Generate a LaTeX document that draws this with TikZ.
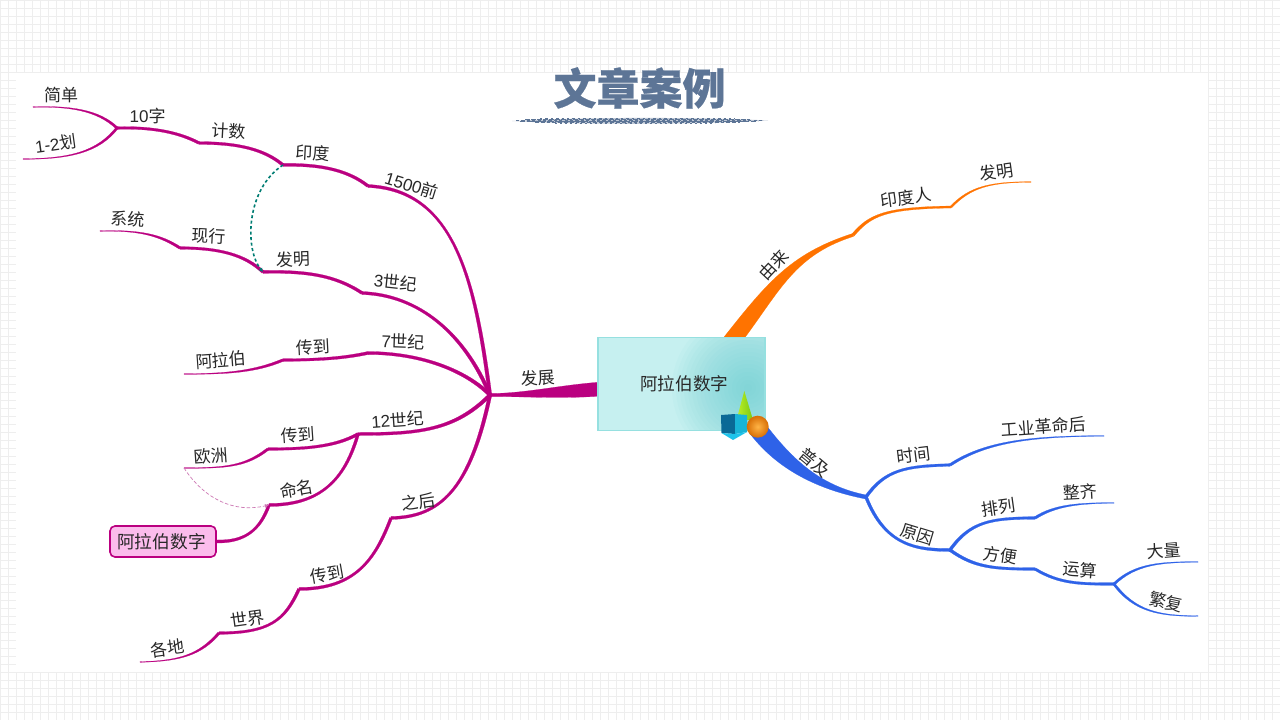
\documentclass[tikz,border=0pt]{standalone}
\usepackage{fontspec}
\setmainfont{Noto Sans CJK SC}
\newfontfamily\titlefont[BoldFeatures={FakeBold=0.5}]{Noto Sans CJK SC}
\newfontfamily\latinfont{Liberation Sans}
\usetikzlibrary{calc,arrows.meta}
\definecolor{mag}{RGB}{186,0,128}
\definecolor{org}{RGB}{255,115,0}
\definecolor{blu}{RGB}{46,98,232}
\definecolor{ink}{RGB}{40,40,40}
\definecolor{gridc}{RGB}{238,238,238}
\definecolor{slate}{RGB}{93,117,150}
\definecolor{boxbase}{RGB}{198,240,240}
\definecolor{boxglow}{RGB}{100,205,210}
\definecolor{boxedge}{RGB}{150,224,224}
\definecolor{pinkfill}{RGB}{251,188,236}
\definecolor{tealdash}{RGB}{0,125,115}
\definecolor{pinkdash}{RGB}{205,120,180}
\definecolor{conea}{RGB}{190,240,40}
\definecolor{coneb}{RGB}{120,200,20}
\definecolor{cubea}{RGB}{10,105,150}
\definecolor{cubeb}{RGB}{25,180,215}
\definecolor{cubec}{RGB}{30,195,235}
\definecolor{balla}{RGB}{255,180,70}
\definecolor{ballb}{RGB}{215,110,5}
\tikzset{
  lab/.style={inner sep=0pt,text=ink,font=\fontsize{17}{17}\selectfont},
}
% \br[colour]{from}{to}{c1}{c2}{width at from}{width at to}
\newcommand{\br}[7][mag]{%
  \coordinate (Pa) at ($(#2)!0.5*#6pt!90:(#4)$);
  \coordinate (Qa) at ($(#2)!0.5*#6pt!-90:(#4)$);
  \coordinate (Pb) at ($(#3)!0.5*#7pt!-90:(#5)$);
  \coordinate (Qb) at ($(#3)!0.5*#7pt!90:(#5)$);
  \path[fill=#1,draw=#1,line width=0.2pt] (Pa) .. controls ($(#4)+(Pa)-(#2)$) and ($(#5)+(Pb)-(#3)$) .. (Pb)
     -- (Qb) .. controls ($(#5)+(Qb)-(#3)$) and ($(#4)+(Qa)-(#2)$) .. (Qa) -- cycle;
}
\begin{document}
\begin{tikzpicture}[x=1pt,y=-1pt]
\useasboundingbox (0,0) rectangle (1280,720);
% background grid
\fill[white] (0,0) rectangle (1280,720);
\foreach \i in {0,8,...,1280} \draw[gridc,line width=1.2pt] (\i+0.3,0) -- (\i+0.3,720);
\foreach \j in {0,8,...,720} \draw[gridc,line width=1.2pt] (0,\j+0.4) -- (1280,\j+0.4);
\fill[white] (16,72.8) rectangle (1207.7,671.8);
% title
\node[inner sep=0pt,text=slate,font=\fontsize{43}{43}\selectfont\titlefont\bfseries] (title) at (639.5,88) {文章案例};
\fill[slate,opacity=0.4] (512,121) .. controls (580,117) and (700,117) .. (768,120.5) .. controls (700,124.5) and (580,125) .. (512,121) -- cycle;
\foreach \yy/\aa/\bb/\xa/\xb in {118.6/2.3/3.1/540/735, 119.4/4.7/1.3/525/750, 120.2/3.1/2.3/516/762, 121/7.3/1.1/530/745, 121.8/5.3/1.7/520/758, 122.6/3.7/2.1/535/740, 123.4/2.1/2.9/555/715}
  \draw[slate,line width=0.8pt,dash pattern=on \aa pt off \bb pt] (\xa,\yy) -- (\xb,\yy);
% coordinates: left
\coordinate (hub) at (490,395);
\coordinate (j1500) at (368,186);
\coordinate (jyindu) at (283,165);
\coordinate (jjishu) at (199,143);
\coordinate (j10) at (117,128);
\coordinate (ejiandan) at (33,107);
\coordinate (ehua) at (23,159);
\coordinate (j3) at (362,293);
\coordinate (jfaming) at (263,272);
\coordinate (jxianxing) at (180,248);
\coordinate (exitong) at (100,231);
\coordinate (j7) at (368,353);
\coordinate (jchuan1) at (283,360);
\coordinate (ealabo) at (184,374);
\coordinate (j12) at (358,434);
\coordinate (jchuan2) at (268,449);
\coordinate (eouzhou) at (184,468);
\coordinate (jmingming) at (269,505);
\coordinate (jzhihou) at (391,518);
\coordinate (jchuan3) at (299,589);
\coordinate (jshijie) at (219,633);
\coordinate (egedi) at (140,662);
\coordinate (rootL) at (602,389);
% coordinates: right
\coordinate (rootT) at (727,347);
\coordinate (jyinduren) at (853,235);
\coordinate (jfaming2) at (951,207);
\coordinate (efaming) at (1031,182);
\coordinate (rootB) at (757,428);
\coordinate (jpuji) at (866,497);
\coordinate (jshijian) at (950,465);
\coordinate (egongye) at (1104,436);
\coordinate (jyuanyin) at (950,550);
\coordinate (jpailie) at (1035,518);
\coordinate (ezhengqi) at (1114,503);
\coordinate (jfangbian) at (1035,569);
\coordinate (jyunsuan) at (1114,584);
\coordinate (edaliang) at (1198,562);
\coordinate (efanfu) at (1198,616);
% trunks
\br{rootL}{hub}{560,392}{525,395}{14}{3}
\br[org]{rootT}{jyinduren}{772,290}{790,255}{17}{3}
\br[blu]{rootB}{jpuji}{785,465}{820,488}{18}{4}
% magenta branches
\br{hub}{j1500}{475,280}{455,190}{3.6}{3}
\br{j1500}{jyindu}{350,172}{325,164}{3}{3}
\br{jyindu}{jjishu}{265,150}{240,143}{3}{2.8}
\br{jjishu}{j10}{180,133}{155,127}{2.8}{2.6}
\br{j10}{ejiandan}{98,110}{70,106}{2.4}{0.6}
\br{j10}{ehua}{98,152}{70,159}{2.4}{0.6}
\br{hub}{j3}{465,335}{420,295}{3.6}{3}
\br{j3}{jfaming}{335,275}{305,271}{3}{3}
\br{jfaming}{jxianxing}{245,255}{220,248}{3}{2.6}
\br{jxianxing}{exitong}{160,235}{140,230}{2.6}{0.6}
\br{hub}{j7}{465,370}{420,353}{3.6}{3}
\br{j7}{jchuan1}{345,358}{320,360}{3}{2.6}
\br{jchuan1}{ealabo}{255,372}{225,374}{2.6}{0.6}
\br{hub}{j12}{455,430}{420,434}{3.6}{3}
\br{j12}{jchuan2}{335,447}{305,449}{3}{2.6}
\br{jchuan2}{eouzhou}{245,467}{225,468}{2.6}{0.6}
\br{j12}{jmingming}{345,480}{320,505}{3}{3}
\br{hub}{jzhihou}{470,490}{440,517}{3.6}{3}
\br{jzhihou}{jchuan3}{375,560}{355,589}{3}{3}
\br{jchuan3}{jshijie}{285,620}{270,633}{3}{2.6}
\br{jshijie}{egedi}{200,655}{180,661}{2.6}{0.6}
% orange
\br[org]{jyinduren}{jfaming2}{870,215}{885,208}{3}{2}
\br[org]{jfaming2}{efaming}{970,187}{990,182}{2}{0.6}
% blue
\br[blu]{jpuji}{jshijian}{885,470}{905,466}{3}{2.6}
\br[blu]{jshijian}{egongye}{985,442}{1030,436}{2.6}{0.7}
\br[blu]{jpuji}{jyuanyin}{885,545}{915,550}{3}{3}
\br[blu]{jyuanyin}{jpailie}{970,522}{990,518}{3}{2.6}
\br[blu]{jpailie}{ezhengqi}{1055,505}{1080,503}{2.6}{0.7}
\br[blu]{jyuanyin}{jfangbian}{975,568}{995,569}{3}{2.6}
\br[blu]{jfangbian}{jyunsuan}{1060,584}{1080,584}{2.6}{2.6}
\br[blu]{jyunsuan}{edaliang}{1135,564}{1160,562}{2.4}{0.7}
\br[blu]{jyunsuan}{efanfu}{1135,612}{1160,616}{2.4}{0.7}
% pink box and its link
\node[inner sep=0pt,minimum width=106pt,minimum height=31pt,rounded corners=5pt,fill=pinkfill,draw=mag,line width=1.6pt,text=ink,font=\fontsize{17.7}{18}\selectfont] (albox) at (163,541.5) {\raisebox{1.5pt}{阿拉伯数字}\hspace*{3pt}};
\coordinate (alboxE) at (albox.east);
\br{alboxE}{jmingming}{245,542}{260,530}{3}{3}
% cross links
\draw[draw=tealdash,line width=1.6pt,dash pattern=on 3pt off 2.5pt,-{Latex[length=4pt,width=4.5pt]}] (jyindu) .. controls (245,190) and (245,250) .. (jfaming);
\draw[draw=pinkdash,line width=0.7pt,dash pattern=on 3.5pt off 2pt,-{Latex[length=4pt,width=4pt]}] (eouzhou) .. controls (205,500) and (235,513) .. (jmingming);
% central topic: base and soft glow
\begin{scope}
  \clip (598,337.2) rectangle (765,430.2);
  \fill[boxbase] (598,337.2) rectangle (765,430.2);
  \foreach \r in {4,8,...,76} \fill[boxglow,opacity=0.05] (748,388) circle (\r pt);
\end{scope}
\node[inner sep=0pt,minimum width=167pt,minimum height=93pt,draw=boxedge,line width=1.1pt,text=ink,font=\fontsize{17.6}{18}\selectfont] (root) at (681.5,383.7) {\hspace*{5.5pt}阿拉伯数字};
% icon
\shade[left color=conea,right color=coneb] (744.3,391) -- (753,420) -- (736.5,420) -- cycle;
\fill[cubea] (721,415) -- (735,414) -- (735,434) -- (721.5,433) -- cycle;
\fill[cubeb] (735,414) -- (747,415) -- (747,432) -- (735,434) -- cycle;
\fill[cubec] (721.5,433) -- (735,434) -- (747,432) -- (733,440) -- cycle;
\shade[inner color=balla,outer color=ballb] (757.7,426.7) circle (11pt);
% labels
\node[lab,rotate=0] (t1) at (61,95) {简单};
\node[lab,rotate=8] (t2) at (55.7,144) {{\latinfont 1-2}划};
\node[lab,rotate=0] (t3) at (147.7,115.7) {{\latinfont 10}字};
\node[lab,rotate=-3] (t4) at (229,131) {计数};
\node[lab,rotate=-3] (t5) at (313.3,152.7) {印度};
\node[lab,rotate=-17] (t6) at (411.7,185.3) {{\latinfont 1500}前};
\node[lab,rotate=-3] (t7) at (128.3,219.3) {系统};
\node[lab,rotate=-3] (t8) at (209.3,235.7) {现行};
\node[lab,rotate=2] (t9) at (293.3,259.3) {发明};
\node[lab,rotate=-6] (t10) at (395.7,282.3) {{\latinfont 3}世纪};
\node[lab,rotate=4] (t11) at (221,360) {阿拉伯};
\node[lab,rotate=3] (t12) at (313.3,346.7) {传到};
\node[lab,rotate=-2] (t13) at (403.3,341.7) {{\latinfont 7}世纪};
\node[lab,rotate=4] (t14) at (397.7,420) {{\latinfont 12}世纪};
\node[lab,rotate=4] (t15) at (298.3,435) {传到};
\node[lab,rotate=4] (t16) at (211,456) {欧洲};
\node[lab,rotate=10] (t17) at (296.7,489.3) {命名};
\node[lab,rotate=8] (t18) at (418.3,501.7) {之后};
\node[lab,rotate=10] (t19) at (327.3,574.3) {传到};
\node[lab,rotate=8] (t20) at (247.7,619) {世界};
\node[lab,rotate=8] (t21) at (167.3,648.3) {各地};
\node[lab,rotate=4] (t22) at (538,378) {发展};
\node[lab,rotate=47] (t23) at (773.3,265) {由来};
\node[lab,rotate=8] (t24) at (905.7,197.7) {印度人};
\node[lab,rotate=8] (t25) at (996.7,171.7) {发明};
\node[lab,rotate=-40] (t26) at (815,462.7) {普及};
\node[lab,rotate=7] (t27) at (914,455) {时间};
\node[lab,rotate=4] (t28) at (1043.3,426.7) {工业革命后};
\node[lab,rotate=-17] (t29) at (917.7,534.3) {原因};
\node[lab,rotate=8] (t30) at (998.3,507.3) {排列};
\node[lab,rotate=3] (t31) at (1080,492.3) {整齐};
\node[lab,rotate=-8] (t32) at (1000.7,555) {方便};
\node[lab,rotate=-5] (t33) at (1080,570) {运算};
\node[lab,rotate=5] (t34) at (1164.3,551) {大量};
\node[lab,rotate=-12] (t35) at (1166,601.7) {繁复};
\end{tikzpicture}
\end{document}
